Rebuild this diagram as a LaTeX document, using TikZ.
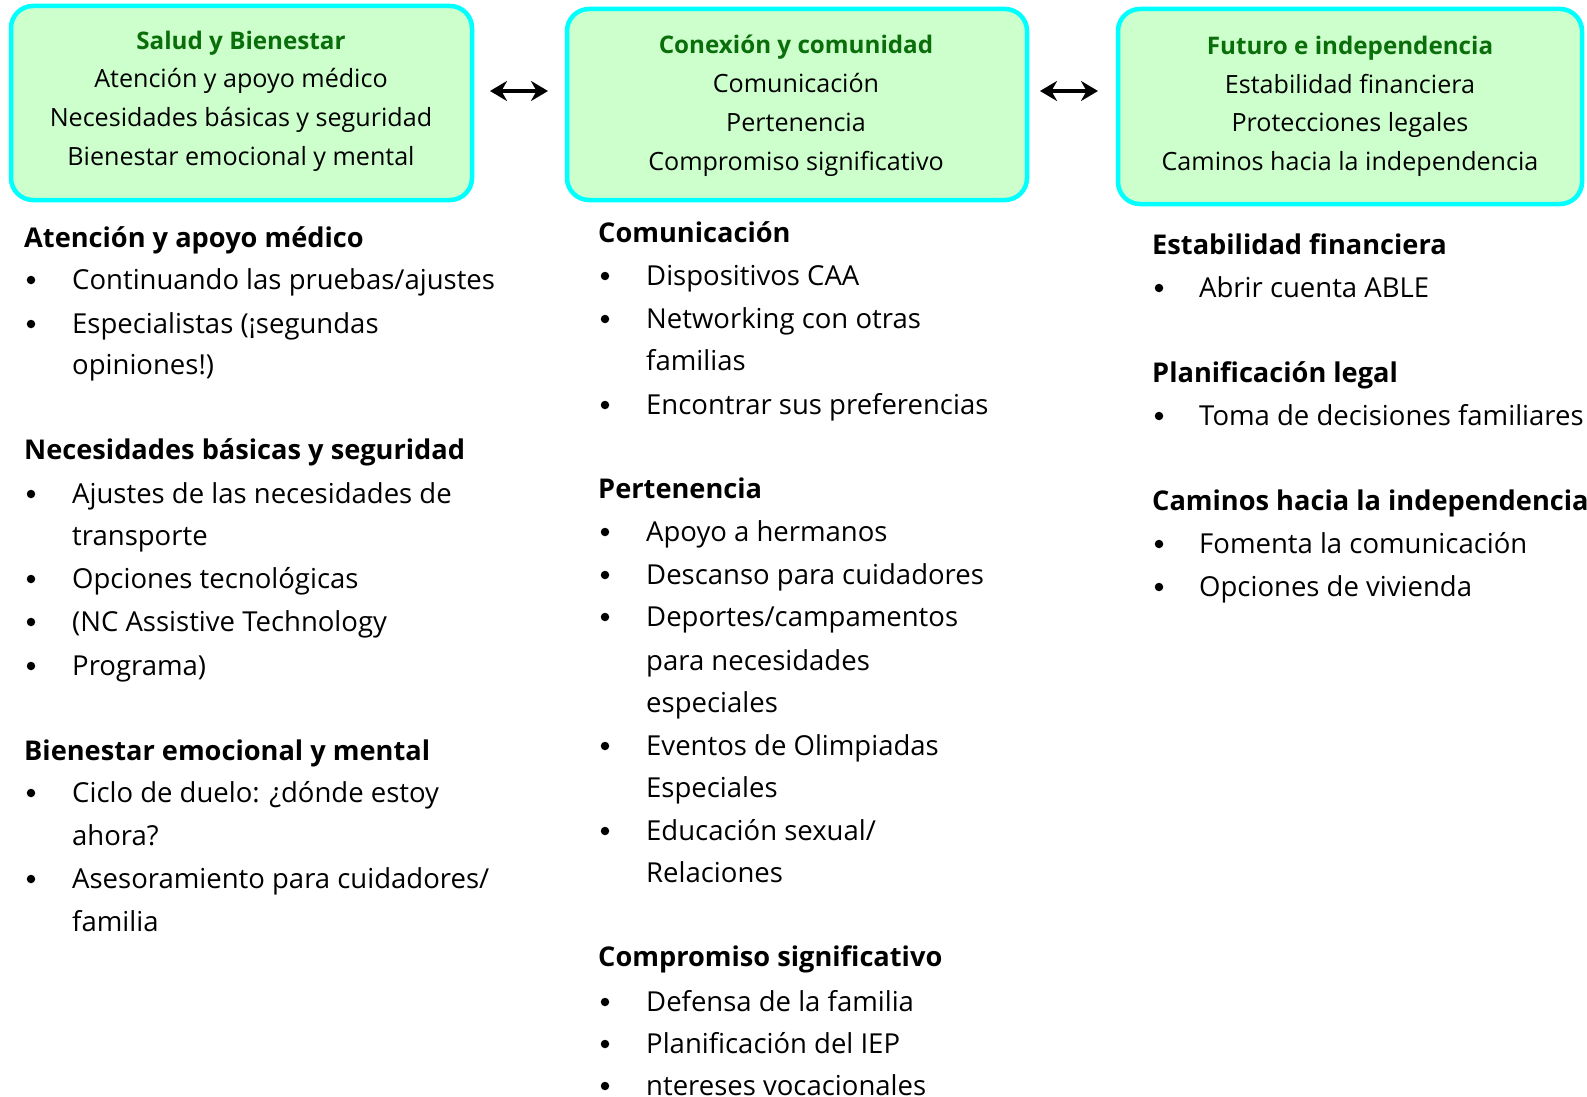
\documentclass[tikz,border=0pt]{standalone}
\usepackage{fontspec}
\setmainfont{Open Sans}
\usetikzlibrary{arrows.meta}
\definecolor{boxfill}{HTML}{CCFFCC}
\definecolor{boxline}{HTML}{00FFFF}
\definecolor{titlegreen}{HTML}{0A6E0A}
\tikzset{
  catbox/.style={draw=boxline, line width=4.5pt, fill=boxfill, rounded corners=22pt},
  boxtitle/.style={font=\fontsize{24.2}{28}\selectfont\bfseries, text=titlegreen, anchor=mid, yshift=-5.5pt},
  boxline/.style={font=\fontsize{25.1}{28}\selectfont, anchor=mid, yshift=-6pt},
  head/.style={font=\fontsize{27.2}{30}\selectfont\bfseries, anchor=mid west, inner sep=0pt, yshift=-7pt},
  item/.style={font=\fontsize{27.5}{30}\selectfont, anchor=mid west, inner sep=0pt, yshift=-7.5pt},
  bul/.style={circle, fill=black, inner sep=0pt, minimum size=8.5pt},
  dbl/.style={{Stealth[length=17pt,width=20pt]}-{Stealth[length=17pt,width=20pt]}, line width=4.5pt}
}
\begin{document}
\begin{tikzpicture}[x=1pt,y=-1pt]
\useasboundingbox (0,0) rectangle (1587,1097);
\clip (0,0) rectangle (1587,1097);
% boxes
\draw[catbox] (11,6) rectangle (472,200);
\draw[catbox] (567,9) rectangle (1027,200);
\draw[catbox] (1118,9) rectangle (1582,204);
\node[boxtitle] (t1) at (241,41) {Salud y Bienestar};
\node[boxline] (t1a) at (241,79) {Atención y apoyo médico};
\node[boxline] (t1b) at (241,118) {Necesidades básicas y seguridad};
\node[boxline] (t1c) at (241,157) {Bienestar emocional y mental};
\node[boxtitle] (t2) at (796,45) {Conexión y comunidad};
\node[boxline] (t2a) at (796,84) {Comunicación};
\node[boxline] (t2b) at (796,123) {Pertenencia};
\node[boxline] (t2c) at (796,162) {Compromiso significativo};
\node[boxtitle] (t3) at (1350,46) {Futuro e independencia};
\node[boxline] (t3a) at (1350,85) {Estabilidad financiera};
\node[boxline] (t3b) at (1350,123) {Protecciones legales};
\node[boxline] (t3c) at (1350,162) {Caminos hacia la independencia};
% arrows
\coordinate (a1l) at (490,91); \coordinate (a1r) at (548,91);
\coordinate (a2l) at (1040,91); \coordinate (a2r) at (1098,91);
\draw[dbl] (a1l) -- (a1r);
\draw[dbl] (a2l) -- (a2r);
% column 1
\node[head] (h11) at (24,238) {Atención y apoyo médico};
\node[bul] (p111) at (31,280) {}; \node[item] (i111) at (72,279) {Continuando las pruebas/ajustes};
\node[bul] (p112) at (31,324) {}; \node[item] (i112) at (72,323) {Especialistas (¡segundas};
\node[item] (i113) at (72,364) {opiniones!)};
\node[head] (h12) at (24,450) {Necesidades básicas y seguridad};
\node[bul] (p121) at (31,494) {}; \node[item] (i121) at (72,493) {Ajustes de las necesidades de};
\node[item] (i122) at (72,535) {transporte};
\node[bul] (p123) at (31,579) {}; \node[item] (i123) at (72,578) {Opciones tecnológicas};
\node[bul] (p124) at (31,622) {}; \node[item] (i124) at (72,621) {(NC Assistive Technology};
\node[bul] (p125) at (31,666) {}; \node[item] (i125) at (72,665) {Programa)};
\node[head] (h13) at (24,751) {Bienestar emocional y mental};
\node[bul] (p131) at (31,793) {}; \node[item] (i131) at (72,792) {Ciclo de duelo: ¿dónde estoy};
\node[item] (i132) at (72,835) {ahora?};
\node[bul] (p133) at (31,879) {}; \node[item] (i133) at (72,878) {Asesoramiento para cuidadores/};
\node[item] (i134) at (72,921) {familia};
% column 2
\node[head] (h21) at (598,233) {Comunicación};
\node[bul] (p211) at (605,276) {}; \node[item] (i211) at (646,275) {Dispositivos CAA};
\node[bul] (p212) at (605,319) {}; \node[item] (i212) at (646,318) {Networking con otras};
\node[item] (i213) at (646,360) {familias};
\node[bul] (p214) at (605,405) {}; \node[item] (i214) at (646,404) {Encontrar sus preferencias};
\node[head] (h22) at (598,489) {Pertenencia};
\node[bul] (p221) at (605,532) {}; \node[item] (i221) at (646,531) {Apoyo a hermanos};
\node[bul] (p222) at (605,575) {}; \node[item] (i222) at (646,574) {Descanso para cuidadores};
\node[bul] (p223) at (605,617) {}; \node[item] (i223) at (646,616) {Deportes/campamentos};
\node[item] (i224) at (646,660) {para necesidades};
\node[item] (i225) at (646,702) {especiales};
\node[bul] (p226) at (605,746) {}; \node[item] (i226) at (646,745) {Eventos de Olimpiadas};
\node[item] (i227) at (646,787) {Especiales};
\node[bul] (p228) at (605,831) {}; \node[item] (i228) at (646,830) {Educación sexual/};
\node[item] (i229) at (646,872) {Relaciones};
\node[head] (h23) at (598,957) {Compromiso significativo};
\node[bul] (p231) at (605,1002) {}; \node[item] (i231) at (646,1001) {Defensa de la familia};
\node[bul] (p232) at (605,1044) {}; \node[item] (i232) at (646,1043) {Planificación del IEP};
\node[bul] (p233) at (605,1086) {}; \node[item] (i233) at (646,1085) {ntereses vocacionales};
% column 3
\node[head] (h31) at (1152,245) {Estabilidad financiera};
\node[bul] (p311) at (1159,288) {}; \node[item] (i311) at (1199,287) {Abrir cuenta ABLE};
\node[head] (h32) at (1152,373) {Planificación legal};
\node[bul] (p321) at (1159,416) {}; \node[item] (i321) at (1199,415) {Toma de decisiones familiares};
\node[head] (h33) at (1152,501) {Caminos hacia la independencia};
\node[bul] (p331) at (1159,544) {}; \node[item] (i331) at (1199,543) {Fomenta la comunicación};
\node[bul] (p332) at (1159,587) {}; \node[item] (i332) at (1199,586) {Opciones de vivienda};
\end{tikzpicture}
\end{document}
